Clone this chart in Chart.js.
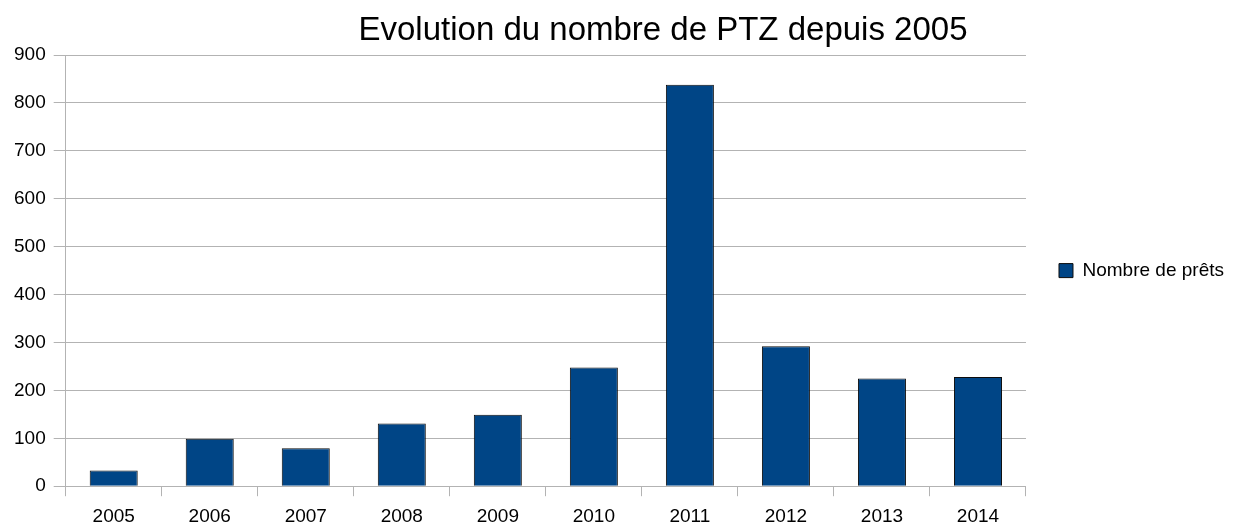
<!DOCTYPE html>
<html>
<head>
<meta charset="utf-8">
<script src="https://cdn.jsdelivr.net/npm/chart.js@4.4.1/dist/chart.umd.min.js"></script>
<style>
  html, body { margin: 0; padding: 0; background: #ffffff; }
  #wrap { width: 1239px; height: 526px; }
</style>
</head>
<body>
<div id="wrap"><canvas id="myChartPtz" width="1239" height="526"></canvas></div>
<script>
// Chart data
const years = ["2005", "2006", "2007", "2008", "2009", "2010", "2011", "2012", "2013", "2014"];
const loanCounts = [33, 99, 79, 131, 149, 248, 838, 292, 225, 228];
const seriesLabel = "Nombre de prêts";
const chartTitle = "Evolution du nombre de PTZ depuis 2005";

const FONT = "'Liberation Sans', Arial, sans-serif";
const GRID = "#b3b3b3";

// Title drawn by hand so it sits where the original has it
const titlePlugin = {
  id: "offsetTitle",
  afterDraw(chart) {
    const ctx = chart.ctx;
    ctx.save();
    ctx.font = "33px " + FONT;
    ctx.fillStyle = "#000000";
    ctx.textAlign = "center";
    ctx.textBaseline = "middle";
    ctx.fillText(chartTitle, 663, 31);
    ctx.restore();
  },
};

// center the legend on the plot area, not on the whole right column
const legendToPlot = {
  id: "legendToPlot",
  afterLayout(chart) {
    const lg = chart.legend;
    if (!lg) return;
    lg.top = chart.chartArea.top;
    lg.bottom = chart.chartArea.bottom;
    lg.height = lg.bottom - lg.top;
  },
};

// Create the chart
const ctx = document.getElementById("myChartPtz").getContext("2d");
new Chart(ctx, {
  type: "bar",
  data: {
    labels: years,
    datasets: [
      {
        label: seriesLabel,
        data: loanCounts,
        backgroundColor: "#004586",
        borderColor: "#0d0d0d",
        borderWidth: 1,
        categoryPercentage: 1,
        barPercentage: 0.5,
      },
    ],
  },
  options: {
    responsive: false,
    animation: false,
    layout: {
      padding: { left: 6, top: 55, right: 5, bottom: -11 },
    },
    plugins: {
      title: { display: false },
      tooltip: { enabled: false },
      legend: {
        position: "right",
        align: "center",
        labels: {
          color: "#000000",
          font: { family: FONT, size: 19 },
          boxWidth: 14,
          boxHeight: 14,
          padding: 33,
        },
      },
    },
    scales: {
      x: {
        offset: true,
        border: { color: GRID, width: 1 },
        grid: {
          offset: true,
          drawOnChartArea: true,
          color: (c) => (c.index === 0 || c.index === years.length ? GRID : "rgba(0,0,0,0)"),
          tickColor: GRID,
          tickLength: 10,
        },
        ticks: {
          color: "#000000",
          font: { family: FONT, size: 19 },
          padding: 9,
          maxRotation: 0,
        },
      },
      y: {
        min: 0,
        max: 900,
        border: { color: GRID, width: 1 },
        grid: {
          color: GRID,
          tickColor: GRID,
          tickLength: 12,
        },
        ticks: {
          stepSize: 100,
          color: "#000000",
          font: { family: FONT, size: 19 },
          padding: 8,
        },
      },
    },
  },
  plugins: [titlePlugin, legendToPlot],
});
</script>
</body>
</html>
